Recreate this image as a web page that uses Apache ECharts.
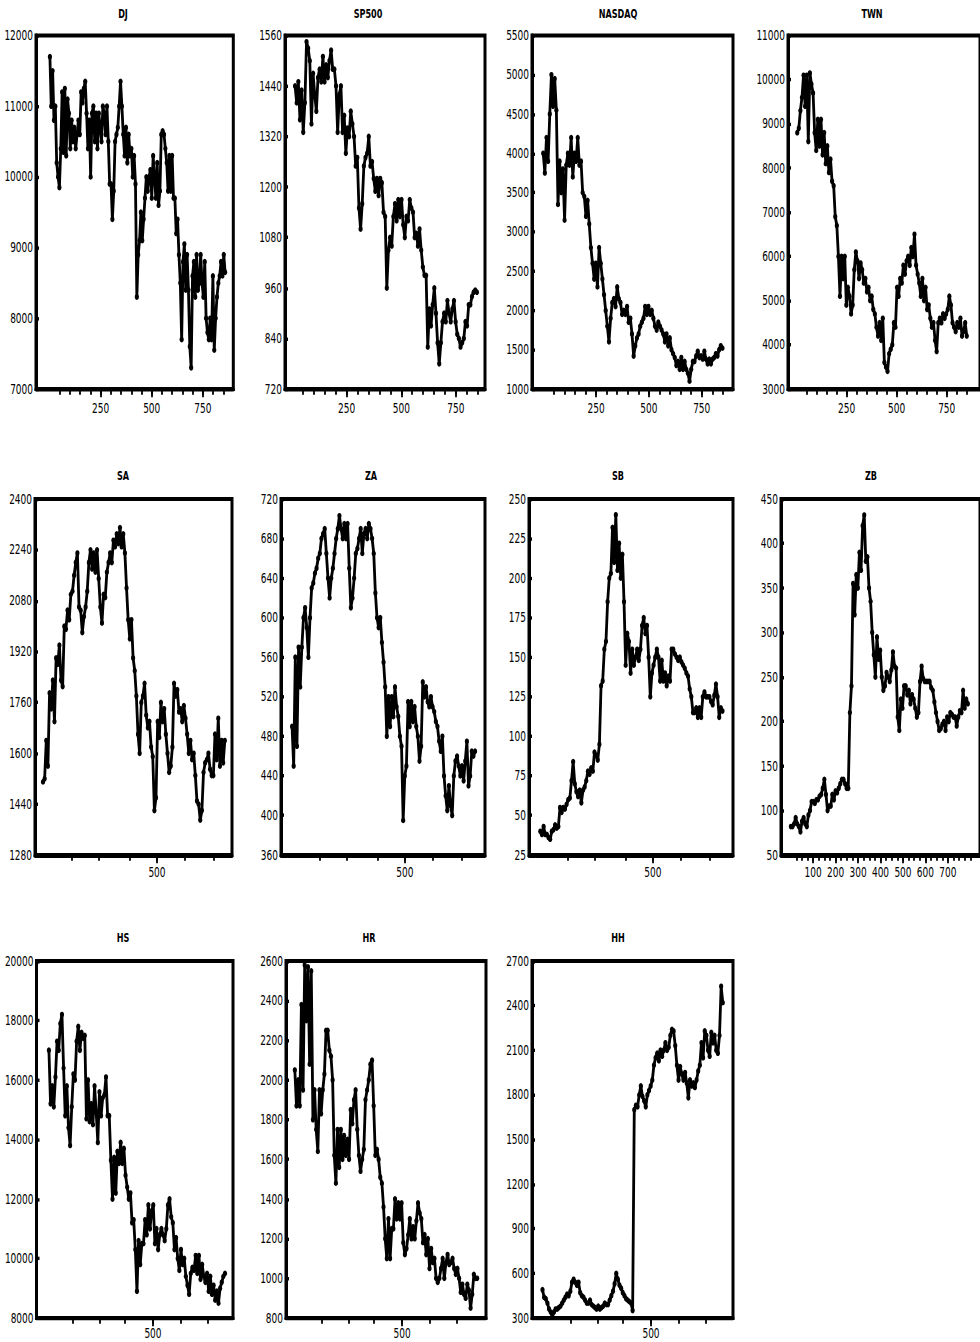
<!DOCTYPE html>
<html>
<head>
<meta charset="utf-8">
<script src="https://cdn.jsdelivr.net/npm/echarts@6/dist/echarts.min.js"></script>
<style>
  html, body { margin: 0; padding: 0; background: #fff; overflow: hidden; }
  #frame { width: 980px; height: 1342px; overflow: hidden; position: relative; }
  #chart { width: 980px; transform-origin: 0 0; }
</style>
</head>
<body>
<div id="frame"><div id="chart"></div></div>
<script>
// ---- Index levels, sampled evenly along each observation span ----
const dj = [11700, 11000, 11500, 10800, 11000, 10200, 10000, 9850, 10400, 11200, 10350, 11250, 10300, 11100, 10900, 10400, 10800, 10500, 10700, 10400, 10600, 10800, 10600, 11200, 11050, 11250, 11350, 10900, 10400, 10800, 10000, 10900, 11000, 10500, 10900, 10400, 10900, 10700, 10500, 11000, 10900, 10600, 11000, 10500, 9900, 9900, 9400, 9800, 10500, 10600, 10700, 11000, 11350, 11000, 10600, 10300, 10700, 10200, 10600, 10300, 10400, 10000, 10300, 9900, 8300, 8900, 9100, 9500, 9100, 9400, 9700, 10000, 9800, 10000, 10100, 9700, 10300, 10000, 9700, 10200, 9600, 9800, 10600, 10650, 10600, 10400, 10200, 9800, 10300, 9800, 10300, 9700, 9700, 9200, 9400, 8900, 8500, 7700, 8800, 9050, 8400, 8900, 8400, 7600, 7300, 8600, 8800, 8300, 8900, 8400, 8500, 8900, 8500, 8300, 8800, 8000, 7800, 7700, 8000, 7700, 8600, 7550, 8000, 8300, 8500, 8600, 8800, 8600, 8900, 8650];
const djObs = [2, 859];

const sp500 = [1440, 1400, 1450, 1360, 1430, 1330, 1400, 1545, 1530, 1500, 1350, 1470, 1420, 1380, 1460, 1480, 1450, 1510, 1450, 1490, 1460, 1500, 1525, 1480, 1480, 1440, 1330, 1420, 1440, 1330, 1370, 1280, 1340, 1320, 1380, 1350, 1320, 1250, 1270, 1150, 1100, 1160, 1250, 1270, 1280, 1320, 1250, 1260, 1220, 1190, 1220, 1180, 1220, 1210, 1140, 1130, 960, 1050, 1080, 1060, 1130, 1160, 1120, 1170, 1130, 1170, 1110, 1080, 1130, 1120, 1170, 1150, 1140, 1080, 1090, 1060, 1100, 1050, 1010, 990, 990, 820, 910, 870, 920, 960, 900, 830, 780, 830, 880, 900, 880, 930, 900, 880, 910, 930, 880, 850, 840, 820, 830, 840, 880, 870, 920, 920, 940, 950, 955, 950];
const sp500Obs = [14, 846];

const nasdaq = [4000, 3750, 4200, 3900, 4500, 5000, 4600, 4950, 4550, 3350, 3900, 3500, 3800, 3150, 3850, 4000, 3850, 4200, 3700, 4000, 3900, 4200, 3850, 3900, 3500, 3450, 3200, 3400, 3100, 2800, 2600, 2400, 2600, 2300, 2800, 2600, 2400, 2200, 2000, 1800, 1600, 1900, 2100, 2150, 2050, 2300, 2150, 2100, 1950, 2000, 1950, 2050, 1850, 1900, 1700, 1420, 1550, 1650, 1700, 1800, 1850, 1900, 2050, 1950, 2050, 1950, 2000, 1900, 1800, 1750, 1850, 1800, 1750, 1700, 1600, 1700, 1550, 1650, 1500, 1450, 1400, 1300, 1350, 1250, 1400, 1250, 1350, 1250, 1200, 1100, 1250, 1350, 1350, 1420, 1480, 1400, 1420, 1380, 1480, 1380, 1320, 1380, 1320, 1380, 1400, 1450, 1420, 1500, 1550, 1520];
const nasdaqObs = [0, 848];

const twn = [8800, 8900, 9300, 9600, 10100, 9400, 10100, 8600, 10150, 9900, 9700, 8800, 8400, 9100, 8500, 9100, 8300, 8800, 8100, 8500, 7900, 8200, 7700, 7600, 6900, 6700, 6000, 5100, 6000, 5500, 6000, 4900, 5300, 5100, 4700, 4900, 5700, 6100, 5900, 5500, 5850, 5700, 5400, 5500, 5200, 5300, 5000, 5100, 4800, 4700, 4400, 4200, 4500, 4100, 4600, 3600, 3500, 3400, 3800, 3900, 4000, 4500, 4400, 5300, 5100, 5500, 5400, 5800, 5600, 5900, 6000, 5800, 6200, 6000, 6500, 5800, 5600, 5400, 5100, 5500, 5000, 5300, 4800, 4900, 4600, 4400, 4500, 4100, 3850, 4500, 4600, 4500, 4700, 4600, 4700, 4800, 5100, 4900, 4500, 4400, 4300, 4500, 4400, 4600, 4200, 4300, 4500, 4200];
const twnObs = [4, 850];

const sa = [1510, 1520, 1640, 1560, 1790, 1740, 1830, 1700, 1900, 1880, 1940, 1830, 1810, 2000, 1990, 2050, 2020, 2100, 2110, 2160, 2200, 2230, 2060, 2050, 1980, 2030, 2060, 2110, 2200, 2240, 2180, 2230, 2170, 2240, 2150, 2060, 2010, 2100, 2090, 2170, 2200, 2230, 2200, 2270, 2250, 2290, 2260, 2310, 2250, 2290, 2230, 2120, 2020, 1960, 2020, 1900, 1860, 1780, 1660, 1600, 1760, 1780, 1820, 1720, 1680, 1700, 1620, 1590, 1420, 1460, 1700, 1650, 1760, 1700, 1740, 1660, 1600, 1540, 1560, 1620, 1820, 1780, 1800, 1730, 1740, 1700, 1750, 1710, 1660, 1600, 1640, 1580, 1600, 1530, 1450, 1440, 1390, 1420, 1540, 1570, 1580, 1600, 1550, 1530, 1530, 1660, 1580, 1710, 1560, 1640, 1570, 1640];
const saObs = [87, 746];

const za = [490, 450, 560, 470, 570, 530, 570, 600, 610, 590, 560, 600, 630, 635, 645, 650, 660, 665, 680, 685, 690, 665, 640, 620, 640, 650, 665, 680, 690, 703, 690, 680, 695, 680, 695, 650, 610, 620, 640, 665, 670, 680, 690, 665, 685, 690, 680, 695, 690, 680, 665, 625, 600, 590, 600, 575, 555, 530, 480, 520, 490, 520, 500, 530, 510, 500, 480, 470, 395, 440, 450, 515, 490, 515, 495, 510, 490, 480, 455, 470, 535, 520, 530, 515, 510, 520, 510, 505, 495, 490, 475, 465, 480, 440, 420, 405, 430, 410, 400, 440, 455, 460, 450, 440, 450, 435, 455, 475, 430, 440, 465, 460, 465];
const zaObs = [91, 754];

const sb = [40, 38, 43, 38, 38, 36, 35, 40, 41, 44, 42, 43, 55, 52, 55, 54, 57, 60, 61, 72, 84, 70, 65, 62, 66, 58, 66, 68, 72, 78, 76, 80, 78, 90, 88, 85, 95, 132, 135, 155, 160, 185, 200, 203, 232, 210, 240, 205, 222, 200, 215, 185, 145, 165, 160, 140, 155, 145, 150, 155, 148, 155, 170, 175, 165, 170, 150, 125, 140, 145, 150, 155, 150, 135, 148, 135, 140, 132, 138, 135, 155, 155, 152, 150, 148, 150, 147, 145, 143, 140, 138, 130, 125, 115, 115, 118, 112, 118, 112, 125, 128, 125, 125, 125, 122, 120, 126, 133, 125, 112, 118, 116];
const sbObs = [92, 752];

const zb = [82, 82, 85, 92, 85, 82, 76, 88, 92, 85, 82, 95, 100, 110, 110, 108, 112, 112, 116, 118, 125, 135, 118, 100, 105, 105, 118, 112, 122, 120, 125, 130, 135, 135, 130, 125, 125, 210, 240, 355, 320, 365, 350, 390, 370, 420, 432, 380, 385, 350, 335, 300, 275, 250, 295, 270, 280, 250, 235, 240, 255, 250, 245, 258, 278, 262, 260, 205, 190, 225, 215, 240, 240, 230, 235, 220, 230, 225, 215, 205, 210, 245, 262, 248, 245, 245, 245, 245, 238, 235, 222, 210, 200, 190, 192, 197, 200, 190, 205, 200, 210, 208, 205, 205, 195, 205, 212, 210, 235, 215, 225, 220];
const zbObs = [1, 789];

const hs = [17000, 15200, 15800, 15100, 16100, 17300, 17000, 17900, 18200, 16400, 14800, 15800, 14400, 13800, 15100, 16200, 16000, 17300, 17800, 17000, 17600, 17400, 17500, 14700, 16000, 14600, 15200, 14500, 15800, 14900, 13900, 15600, 14800, 15400, 15500, 16100, 14800, 14800, 13300, 12000, 13400, 12200, 13600, 13200, 13900, 13200, 13700, 12800, 12400, 12000, 12200, 11200, 11300, 10300, 8900, 10600, 9800, 10500, 10500, 11300, 10800, 11800, 11000, 11600, 11800, 10500, 11000, 10300, 10800, 11000, 10800, 10600, 11000, 11800, 12000, 11400, 11200, 10300, 10700, 10000, 9600, 10300, 9800, 10000, 9400, 9100, 8800, 9500, 9700, 9600, 10100, 9500, 10100, 9300, 9800, 9400, 9200, 9500, 8900, 9400, 8800, 9100, 8600, 8900, 8500, 9000, 9200, 9400, 9500];
const hsObs = [123, 761];

const hr = [2050, 1870, 2000, 1870, 2380, 1950, 2580, 2300, 2570, 2080, 2550, 1800, 1950, 1750, 1640, 1950, 1830, 1950, 2030, 2250, 2250, 2150, 2120, 2000, 1620, 1480, 1750, 1560, 1750, 1600, 1720, 1620, 1700, 1600, 1850, 1780, 1900, 1950, 1750, 1620, 1540, 1600, 1650, 1900, 1950, 2000, 2080, 2100, 1870, 1620, 1650, 1600, 1510, 1480, 1360, 1200, 1100, 1300, 1100, 1250, 1250, 1400, 1300, 1380, 1300, 1380, 1180, 1120, 1150, 1220, 1300, 1200, 1260, 1200, 1290, 1380, 1330, 1300, 1180, 1220, 1120, 1200, 1050, 1150, 1080, 1100, 1000, 980, 1000, 1050, 1100, 1000, 1080, 1120, 1070, 1080, 1100, 1050, 1020, 1050, 1000, 930, 970, 920, 900, 970, 940, 850, 920, 1020, 1000, 1000];
const hrObs = [112, 772];

const hh = [490, 440, 430, 400, 360, 340, 320, 340, 360, 360, 370, 380, 400, 420, 440, 460, 450, 480, 540, 560, 540, 520, 540, 470, 450, 440, 420, 400, 400, 420, 390, 380, 370, 360, 380, 360, 370, 380, 400, 390, 390, 420, 450, 480, 530, 600, 560, 520, 500, 470, 450, 430, 420, 410, 400, 350, 1700, 1730, 1720, 1800, 1860, 1790, 1760, 1720, 1800, 1830, 1860, 1900, 2000, 2050, 2080, 2030, 2100, 2060, 2100, 2150, 2100, 2120, 2200, 2240, 2230, 2130, 2000, 1900, 1990, 1940, 1900, 1950, 1880, 1780, 1900, 1860, 1880, 1850, 1900, 1960, 2000, 2150, 2050, 2230, 2200, 2100, 2060, 2220, 2150, 2200, 2100, 2080, 2200, 2530, 2420];
const hhObs = [107, 760];

// ---- Value ranges: [min, max, step] ----
const djRange = [7000, 12000, 1000];
const sp500Range = [720, 1560, 120];
const nasdaqRange = [1000, 5500, 500];
const twnRange = [3000, 11000, 1000];
const saRange = [1280, 2400, 160];
const zaRange = [360, 720, 40];
const sbRange = [25, 250, 25];
const zbRange = [50, 450, 50];
const hsRange = [8000, 20000, 2000];
const hrRange = [800, 2600, 200];
const hhRange = [300, 2700, 300];

// ---- Observation-axis ticks and labels ----
const ticksEvery50 = [50, 100, 150, 200, 250, 300, 350, 400, 450, 500, 550, 600, 650, 700, 750, 800, 850];
const labels250 = [250, 500, 750];
const ticksMid = [190, 290, 400, 500, 600, 705];
const ticksLow = [208, 306, 399, 500, 599, 697];
const labels500 = [500];
const zbTicks = [25, 50, 75, 100, 125, 150, 175, 200, 225, 250, 275, 300, 325, 350, 375, 400, 425, 450, 475, 500, 525, 550, 575, 600, 625, 650, 675, 700, 725, 750, 775, 800];
const zbLabels = [100, 200, 300, 400, 500, 600, 700];

// ---- Page geometry: the drawing is made short and stretched vertically ----
const PAGE_H = 1342;
const DRAW_H = 987;
const STRETCH = PAGE_H / DRAW_H;
const sy = v => v / STRETCH;
const FONT = '"Liberation Sans Narrow", "Arial Narrow", "DejaVu Sans Condensed", sans-serif';

// box: [left, top, right, bottom] in page pixels; span: visible observation range
const panels = [
  { name: 'DJ',     values: dj,     obs: djObs,     range: djRange,     span: [-66, 899], ticks: ticksEvery50, labels: labels250, box: [36, 35.5, 233.3, 389], titleAt: [123, 14],  gap: 9 },
  { name: 'SP500',  values: sp500,  obs: sp500Obs,  range: sp500Range,  span: [-32, 883], ticks: ticksEvery50, labels: labels250, box: [285, 35.5, 485, 389],   titleAt: [368, 14],  gap: 9 },
  { name: 'NASDAQ', values: nasdaq, obs: nasdaqObs, range: nasdaqRange, span: [-53, 898], ticks: ticksEvery50, labels: labels250, box: [532, 35.5, 733, 389],   titleAt: [618, 14],  gap: 9 },
  { name: 'TWN',    values: twn,    obs: twnObs,    range: twnRange,    span: [-42, 916], ticks: ticksEvery50, labels: labels250, box: [788, 35.5, 986, 389],   titleAt: [872, 14],  gap: 9 },
  { name: 'SA',     values: sa,     obs: saObs,     range: saRange,     span: [58, 772],  ticks: ticksMid,     labels: labels500, box: [35, 499, 232, 855],     titleAt: [123, 476], gap: 7.5 },
  { name: 'ZA',     values: za,     obs: zaObs,     range: zaRange,     span: [51, 790],  ticks: ticksMid,     labels: labels500, box: [281, 499, 485, 855],    titleAt: [371, 476], gap: 7.5 },
  { name: 'SB',     values: sb,     obs: sbObs,     range: sbRange,     span: [51, 790],  ticks: ticksMid,     labels: labels500, box: [529, 499, 733, 855],    titleAt: [618, 476], gap: 7.5 },
  { name: 'ZB',     values: zb,     obs: zbObs,     range: zbRange,     span: [-43, 843], ticks: zbTicks,      labels: zbLabels,  box: [781, 499, 985, 855],    titleAt: [871, 476], gap: 7.5 },
  { name: 'HS',     values: hs,     obs: hsObs,     range: hsRange,     span: [78, 790],  ticks: ticksLow,     labels: labels500, box: [36.5, 961, 233, 1318],  titleAt: [123, 938], gap: 6.5 },
  { name: 'HR',     values: hr,     obs: hrObs,     range: hrRange,     span: [80, 804],  ticks: ticksLow,     labels: labels500, box: [286, 961, 486, 1318],   titleAt: [369, 938], gap: 6.5 },
  { name: 'HH',     values: hh,     obs: hhObs,     range: hhRange,     span: [69, 797],  ticks: ticksLow,     labels: labels500, box: [532, 961, 733, 1318],   titleAt: [618, 938], gap: 6.5 }
];

// Pair each sampled value with its observation number
function toPoints(values, obs) {
  const n = values.length;
  const step = (obs[1] - obs[0]) / (n - 1);
  return values.map((v, i) => [obs[0] + i * step, v]);
}

const plain = v => String(v);
const option = {
  animation: false,
  backgroundColor: '#fff',
  grid: [], xAxis: [], yAxis: [], series: [], graphic: []
};

panels.forEach((p, i) => {
  const [l, t, r, b] = p.box;
  option.grid.push({
    left: l, top: sy(t), width: r - l, height: sy(b - t),
    show: true, borderColor: '#000', borderWidth: 3, backgroundColor: 'transparent'
  });
  // minor ticks along the bottom edge
  option.xAxis.push({
    type: 'value', gridIndex: i, position: 'bottom', min: p.span[0], max: p.span[1],
    axisLine: { show: true, onZero: false, lineStyle: { color: '#000', width: 3 } },
    axisTick: { show: true, inside: false, length: 4.2, customValues: p.ticks, lineStyle: { color: '#000', width: 1.8 } },
    axisLabel: { show: false },
    splitLine: { show: false }
  });
  // labelled ticks
  option.xAxis.push({
    type: 'value', gridIndex: i, position: 'bottom', min: p.span[0], max: p.span[1],
    axisLine: { show: false, onZero: false },
    axisTick: { show: true, inside: false, length: 6, customValues: p.labels, lineStyle: { color: '#000', width: 1.8 } },
    axisLabel: { show: true, customValues: p.labels, formatter: plain, margin: p.gap, color: '#000', fontSize: 10, fontFamily: FONT },
    splitLine: { show: false }
  });
  option.yAxis.push({
    type: 'value', gridIndex: i, min: p.range[0], max: p.range[1], interval: p.range[2],
    axisLine: { show: true, onZero: false, lineStyle: { color: '#000', width: 3 } },
    axisTick: { show: true, inside: true, length: 3, lineStyle: { color: '#000', width: 2.5 } },
    axisLabel: { show: true, formatter: plain, margin: 3, color: '#000', fontSize: 10, fontFamily: FONT },
    splitLine: { show: false }
  });
  option.series.push({
    type: 'line', name: p.name, xAxisIndex: 2 * i, yAxisIndex: i,
    data: toPoints(p.values, p.obs),
    symbol: 'circle', symbolSize: 4.2, showSymbol: true,
    lineStyle: { color: '#000', width: 2.8 },
    itemStyle: { color: '#000' },
    silent: true, z: 3
  });
  option.graphic.push({
    type: 'text', x: p.titleAt[0], y: sy(p.titleAt[1]), silent: true,
    style: {
      text: p.name, fill: '#000', font: 'bold 9px ' + FONT,
      textAlign: 'center', textVerticalAlign: 'middle', align: 'center', verticalAlign: 'middle'
    }
  });
});

const el = document.getElementById('chart');
el.style.height = DRAW_H + 'px';
el.style.transform = 'scaleY(' + STRETCH + ')';
const chart = echarts.init(el, null, { renderer: 'svg', width: 980, height: DRAW_H });
chart.setOption(option);
</script>
</body>
</html>
